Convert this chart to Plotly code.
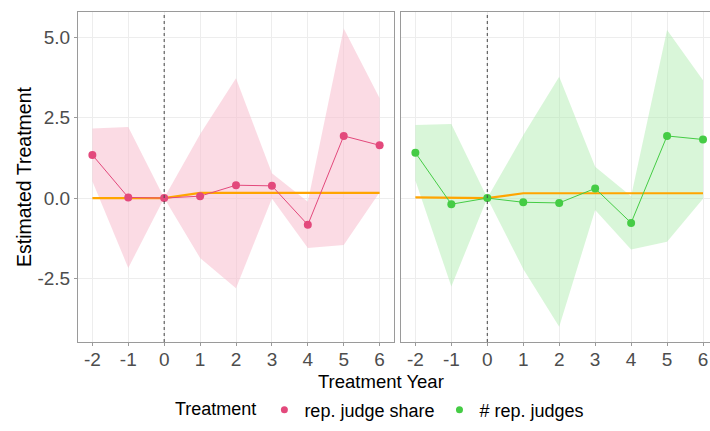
import plotly.graph_objects as go

years = [-2, -1, 0, 1, 2, 3, 4, 5, 6]
tick_vals_x = [-2, -1, 0, 1, 2, 3, 4, 5, 6]
tick_text_x = ["-2", "-1", "0", "1", "2", "3", "4", "5", "6"]
tick_vals_y = [-2.5, 0.0, 2.5, 5.0]
tick_text_y = ["-2.5", "0.0", "2.5", "5.0"]

share_est = [1.34, 0.02, 0.0, 0.06, 0.40, 0.38, -0.83, 1.93, 1.64]
share_hi = [2.16, 2.21, 0.0, 1.98, 3.72, 0.77, -0.11, 5.27, 3.10]
share_lo = [0.52, -2.17, 0.0, -1.86, -2.80, -0.01, -1.55, -1.46, 0.18]

count_est = [1.41, -0.19, 0.0, -0.13, -0.15, 0.30, -0.77, 1.93, 1.82]
count_hi = [2.27, 2.30, 0.0, 1.95, 3.77, 0.97, 0.06, 5.22, 3.66]
count_lo = [0.55, -2.75, 0.0, -2.20, -4.00, -0.37, -1.60, -1.36, -0.02]

ref_share = [0.0, 0.0, 0.0, 0.16, 0.16, 0.16, 0.16, 0.16, 0.16]
ref_count = [0.02, 0.01, 0.0, 0.15, 0.15, 0.15, 0.15, 0.15, 0.15]

series_names = ["rep. judge share", "# rep. judges"]
pink = "#E3497C"
pink_fill = "rgba(248,190,205,0.55)"
green = "#45CC45"
green_fill = "rgba(170,235,170,0.45)"
orange = "#FFA500"
FONT = "Liberation Sans, Arial, sans-serif"

fig = go.Figure()

panels = [
    ("x", "y", share_est, share_hi, share_lo, ref_share, pink, pink_fill, series_names[0]),
    ("x2", "y2", count_est, count_hi, count_lo, ref_count, green, green_fill, series_names[1]),
]
for xa, ya, est, hi, lo, ref, col, fillc, name in panels:
    fig.add_trace(go.Scatter(
        x=years + years[::-1], y=hi + lo[::-1], fill="toself", fillcolor=fillc,
        line=dict(width=0), mode="lines", hoverinfo="skip", showlegend=False,
        xaxis=xa, yaxis=ya))
    fig.add_trace(go.Scatter(
        x=years, y=ref, mode="lines", line=dict(color=orange, width=2.2),
        showlegend=False, xaxis=xa, yaxis=ya))
    fig.add_trace(go.Scatter(
        x=years, y=est, mode="lines+markers", line=dict(color=col, width=1),
        marker=dict(color=col, size=8), showlegend=False, xaxis=xa, yaxis=ya))

# legend-only entries
for name, col in [(series_names[0], pink), (series_names[1], green)]:
    fig.add_trace(go.Scatter(
        x=[None], y=[None], mode="markers", name=name,
        marker=dict(color=col, size=7), xaxis="x", yaxis="y"))

ydom = [1 - 342 / 431, 1 - 12 / 431]
axis_common = dict(
    showgrid=True, gridcolor="#EDEDED", gridwidth=1, zeroline=False,
    showline=True, linecolor="#9A9A9A", linewidth=1, mirror=True,
    ticklen=3, tickcolor="#9A9A9A",
    tickfont=dict(size=19, color="#4D4D4D", family=FONT),
)

fig.update_layout(
    width=710, height=431,
    margin=dict(l=0, r=0, t=0, b=0),
    paper_bgcolor="white", plot_bgcolor="white",
    font=dict(family=FONT, color="black"),
    xaxis=dict(domain=[78 / 710, 394 / 710], range=[-2.4, 6.4], ticks="outside",
               ticklabelstandoff=-3,
               tickvals=tick_vals_x, ticktext=tick_text_x, **axis_common),
    xaxis2=dict(domain=[401 / 710, 1.0], range=[-2.4, 6.0 + 7 / 36], ticks="outside",
                ticklabelstandoff=-3,
                tickvals=tick_vals_x, ticktext=tick_text_x, anchor="y2", **axis_common),
    yaxis=dict(domain=ydom, range=[-4.47, 5.78], tickvals=tick_vals_y, ticks="outside",
               ticktext=tick_text_y, anchor="x", **axis_common),
    yaxis2=dict(domain=ydom, range=[-4.47, 5.78], tickvals=tick_vals_y, ticks="",
                showticklabels=False, anchor="x2", **axis_common),
    showlegend=True,
    legend=dict(orientation="h", x=381 / 710, xanchor="center", y=1 - 410 / 431,
                yanchor="middle", font=dict(size=18, family=FONT),
                title=dict(text="Treatment", font=dict(size=18, family=FONT)),
                itemwidth=30),
)

for xref in ["x", "x2"]:
    fig.add_shape(type="line", xref=xref, yref="paper", x0=0, x1=0,
                  y0=ydom[0], y1=ydom[1],
                  line=dict(color="#444444", width=1, dash="dot"))

fig.add_annotation(text="Treatment Year", x=381 / 710, xref="paper",
                   y=1 - 381 / 431, yref="paper", showarrow=False,
                   font=dict(size=18.5, family=FONT, color="black"),
                   xanchor="center", yanchor="middle")
fig.add_annotation(text="Estimated Treatment", x=24 / 710, xref="paper",
                   y=(ydom[0] + ydom[1]) / 2, yref="paper", showarrow=False,
                   textangle=-90, font=dict(size=19.5, family=FONT, color="black"),
                   xanchor="center", yanchor="middle")

fig.write_html("out.html")
